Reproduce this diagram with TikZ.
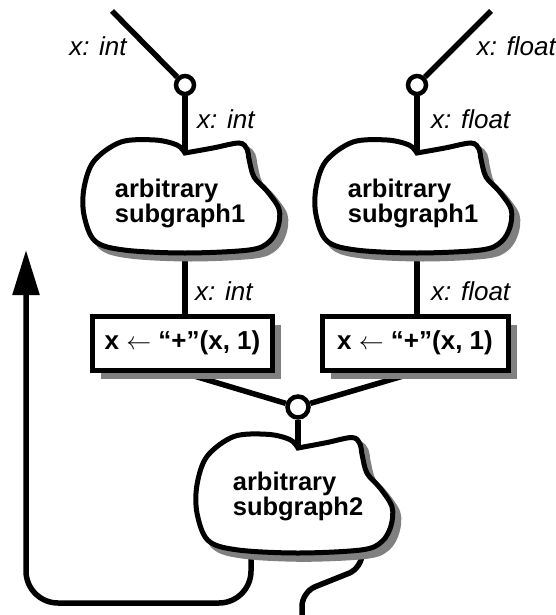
\documentclass[tikz,border=0pt]{standalone}
\usepackage{fontspec}
\setmainfont{Liberation Sans}
\usetikzlibrary{arrows.meta,shadows}
\definecolor{shgray}{RGB}{128,128,128}
\pgfdeclarelayer{bg}
\pgfsetlayers{bg,main}
\tikzset{
  wire/.style={line width=5.5pt},
  port/.style={circle,draw,fill=white,line width=4.5pt,minimum size=18pt,inner sep=0pt},
  opbox/.style={draw,fill=white,line width=5pt,minimum height=54pt,inner sep=0pt,
    font=\bfseries\fontsize{26}{30}\selectfont,
    drop shadow={shadow xshift=8.5pt,shadow yshift=-8.5pt,fill=shgray,opacity=1}},
  lbl/.style={font=\itshape\fontsize{26}{30}\selectfont,inner sep=0pt},
  cloudtext/.style={font=\bfseries\fontsize{25.5}{25}\selectfont,align=left,inner sep=0pt},
  cloud/.pic={
    \draw[shgray,fill=shgray,line width=5pt,shift={(6,6)}] plot[smooth,tension=0.55] coordinates
      {(0,0) (28,-5) (54,-10) (62,-4) (64,6) (69,24) (82,38) (94,56) (93,74) (84,89) (64,97) (0,100)
       (-61,97) (-90,88) (-101,62) (-101,35) (-91,8) (-64,-11) (-30,-13) (-8,-8) (0,0)} -- cycle;
    \draw[fill=white,line width=5pt] plot[smooth,tension=0.55] coordinates
      {(0,0) (28,-5) (54,-10) (62,-4) (64,6) (69,24) (82,38) (94,56) (93,74) (84,89) (64,97) (0,100)
       (-61,97) (-90,88) (-101,62) (-101,35) (-91,8) (-64,-11) (-30,-13) (-8,-8) (0,0)} -- cycle;
    \coordinate (-top) at (0,0);
    \coordinate (-bot) at (0,100);
    \coordinate (-bl) at (-47,96);
    \coordinate (-br) at (64,92);
  }
}
\begin{document}
\begin{tikzpicture}[x=1pt,y=-1pt]
\useasboundingbox (0,0) rectangle (556,615);

% ports
\coordinate (tl) at (112,11);
\coordinate (tr) at (491,11);
\node[port] (c1) at (185,85) {};
\node[port] (c2) at (417,85) {};
\node[port,minimum size=21pt] (c3) at (298,407) {};

% clouds
\pic (L) at (185,153) {cloud};
\pic (R) at (417,153) {cloud};
\pic[yscale=1.05] (B) at (298,448) {cloud};
\node[cloudtext] (Lt) at (180,203) {arbitrary\\subgraph1};
\node[cloudtext] (Rt) at (413,203) {arbitrary\\subgraph1};
\node[cloudtext] (Bt) at (298,496) {arbitrary\\subgraph2};

% boxes
\node[opbox,minimum width=180pt] (lbox) at (182.5,343) {x $\leftarrow$ “+”(x, 1)};
\node[opbox,minimum width=186pt] (rbox) at (415,343) {x $\leftarrow$ “+”(x, 1)};

% labels
\node[lbl] (la1) at (98,46) {x: int};
\node[lbl,anchor=east] (ra1) at (556,46) {x: float};
\node[lbl,anchor=west] (la2) at (197,119) {x: int};
\node[lbl,anchor=west] (ra2) at (431,119) {x: float};
\node[lbl,anchor=west] (la3) at (195,291) {x: int};
\node[lbl,anchor=west] (ra3) at (431,291) {x: float};

\coordinate (tip) at (26,250);
\coordinate (bend1) at (251,603);
\coordinate (bend2) at (26,603);
\coordinate (out) at (302,615);

\begin{pgfonlayer}{bg}
\draw[wire] (tl) -- (c1);
\draw[wire] (tr) -- (c2);
\draw[wire] (c1) -- (L-top);
\draw[wire] (c2) -- (R-top);
\draw[wire] (L-bot) -- (L-bot |- lbox.north);
\draw[wire] (R-bot) -- (R-bot |- rbox.north);
\draw[wire] (lbox.south) -- (c3);
\draw[wire] (rbox.south) -- (c3);
\draw[wire] (c3) -- (B-top);
\draw[wire,rounded corners=32pt,-{Triangle[width=26pt,length=45pt]}]
  (B-bl) -- (bend1) -- (bend2) -- (tip);
\draw[wire,rounded corners=14pt] (B-br) -- (362,568) -- (302,592) -- (out);
\end{pgfonlayer}
\end{tikzpicture}
\end{document}
